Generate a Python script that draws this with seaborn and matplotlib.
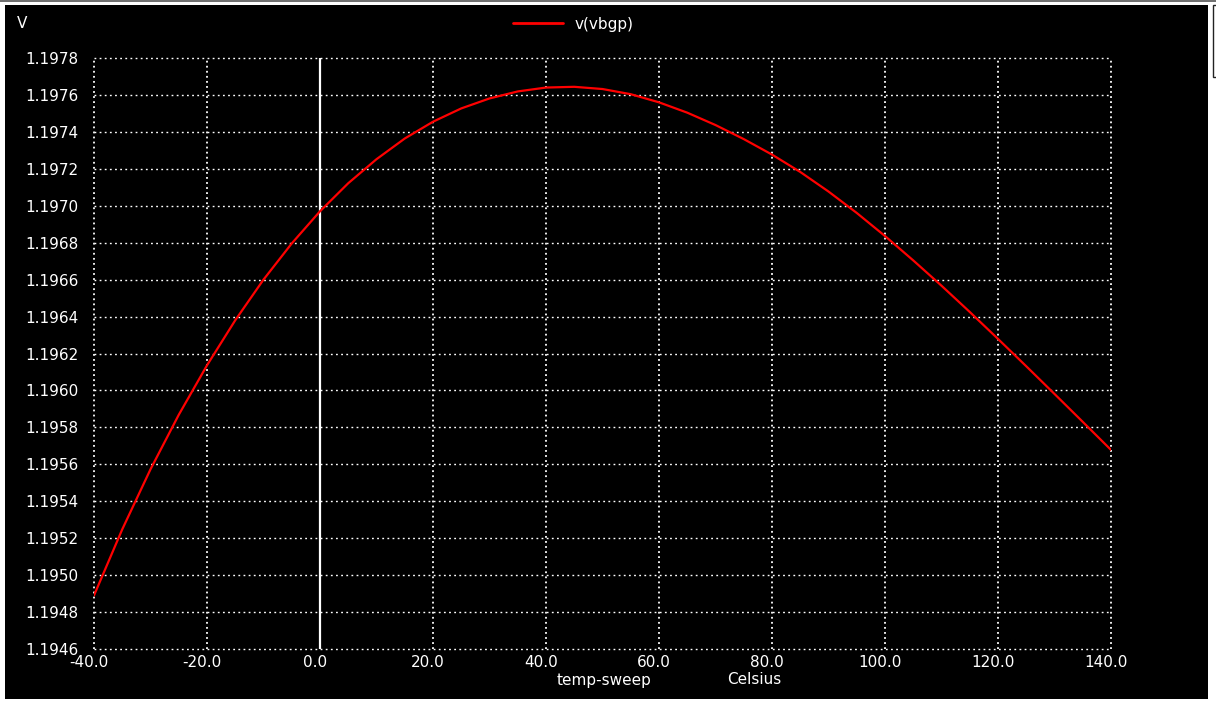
import matplotlib
matplotlib.use("Agg")
import matplotlib.pyplot as plt
import matplotlib.transforms as mtransforms
from matplotlib.patches import Rectangle
from matplotlib.lines import Line2D
import seaborn as sns
import pandas as pd

# ---- data ----
temps = [-40, -35, -30, -25, -20, -15, -10, -5, 0, 5, 10, 15, 20, 25, 30, 35,
         40, 45, 50, 55, 60, 65, 70, 75, 80, 85, 90, 95, 100, 105, 110, 115,
         120, 125, 130, 135, 140]
vbgp = [1.194890, 1.195248, 1.195573, 1.195868, 1.196136, 1.196380, 1.196600,
        1.196796, 1.196970, 1.197122, 1.197252, 1.197364, 1.197455, 1.197527,
        1.197581, 1.197619, 1.197640, 1.197644, 1.197632, 1.197604, 1.197560,
        1.197504, 1.197437, 1.197361, 1.197277, 1.197183, 1.197077, 1.196961,
        1.196836, 1.196704, 1.196567, 1.196425, 1.196279, 1.196131, 1.195981,
        1.195830, 1.195678]
x_ticks = [-40, -20, 0, 20, 40, 60, 80, 100, 120, 140]
y_ticks = [1.1946, 1.1948, 1.1950, 1.1952, 1.1954, 1.1956, 1.1958, 1.1960,
           1.1962, 1.1964, 1.1966, 1.1968, 1.1970, 1.1972, 1.1974, 1.1976, 1.1978]
series_name = "v(vbgp)"
y_unit = "V"
x_label_left = "temp-sweep"
x_label_right = "Celsius"

df = pd.DataFrame({"temp": temps, "v": vbgp})

sns.set_theme(style="dark")
plt.rcParams["font.family"] = ["DejaVu Sans"]

W, H = 1216, 705
fig = plt.figure(figsize=(W / 100, H / 100), dpi=100, facecolor="white")

def fx(px):
    return px / W

def fy(py):
    return 1 - py / H

# black plot window
fig.add_artist(Rectangle((fx(5), fy(699)), fx(1208) - fx(5), fy(5) - fy(699),
                         transform=fig.transFigure, facecolor="black",
                         edgecolor="none", zorder=0))
# top gray line
fig.add_artist(Line2D([0, 1], [fy(0.8), fy(0.8)], transform=fig.transFigure,
                      color="#555555", lw=1.2))
# small box at right edge
fig.add_artist(Rectangle((fx(1212.5), fy(77)), fx(10), fy(5) - fy(77),
                         transform=fig.transFigure, facecolor="white",
                         edgecolor="#222222", lw=1.0, zorder=1))

left, right, top, bottom = 94, 1111, 58, 649
ax = fig.add_axes([fx(left), fy(bottom), fx(right) - fx(left), fy(top) - fy(bottom)])
ax.set_facecolor("black")

sns.lineplot(data=df, x="temp", y="v", color="red", lw=1.6, ax=ax,
             label=series_name, zorder=5)

ax.axvline(0, color="white", lw=1.6, zorder=4)

ax.set_xlim(-40, 140)
ax.set_ylim(1.1946, 1.1978)
ax.set_xticks(x_ticks)
ax.set_yticks(y_ticks)
ax.set_xticklabels([f"{v:.1f}" for v in x_ticks])
ax.set_yticklabels([f"{v:.4f}" for v in y_ticks])
ax.tick_params(axis="both", length=0, colors="white", labelsize=11)
ax.tick_params(axis="y", pad=11)
ax.tick_params(axis="x", pad=4)
for lab in ax.get_xticklabels():
    lab.set_transform(lab.get_transform() +
                      mtransforms.ScaledTranslation(-5 / 100, 0, fig.dpi_scale_trans))

ax.grid(False)
for xv in x_ticks:
    ax.axvline(xv, color="white", lw=1.3, linestyle=(0, (1.0, 1.8)), zorder=2,
               clip_on=False)
for yv in y_ticks:
    ax.axhline(yv, color="white", lw=1.0, linestyle=(0, (1.3, 2.4)), zorder=2,
               clip_on=False)
for s in ax.spines.values():
    s.set_visible(False)
ax.set_xlabel("")
ax.set_ylabel("")

leg = ax.legend(loc="center left", bbox_to_anchor=(fx(513), fy(24)),
                bbox_transform=fig.transFigure, frameon=False, borderpad=0,
                borderaxespad=0, handlelength=3.3, handletextpad=0.75,
                fontsize=11, labelcolor="white")
for h in leg.legend_handles:
    h.set_linewidth(2.0)

fig.text(fx(22), fy(24), y_unit, color="white", fontsize=11, ha="center", va="center")
fig.text(fx(557), fy(680), x_label_left, color="white", fontsize=11, ha="left", va="center")
fig.text(fx(727), fy(680), x_label_right, color="white", fontsize=11, ha="left", va="center")

fig.savefig("out.png", dpi=100, facecolor="white")
